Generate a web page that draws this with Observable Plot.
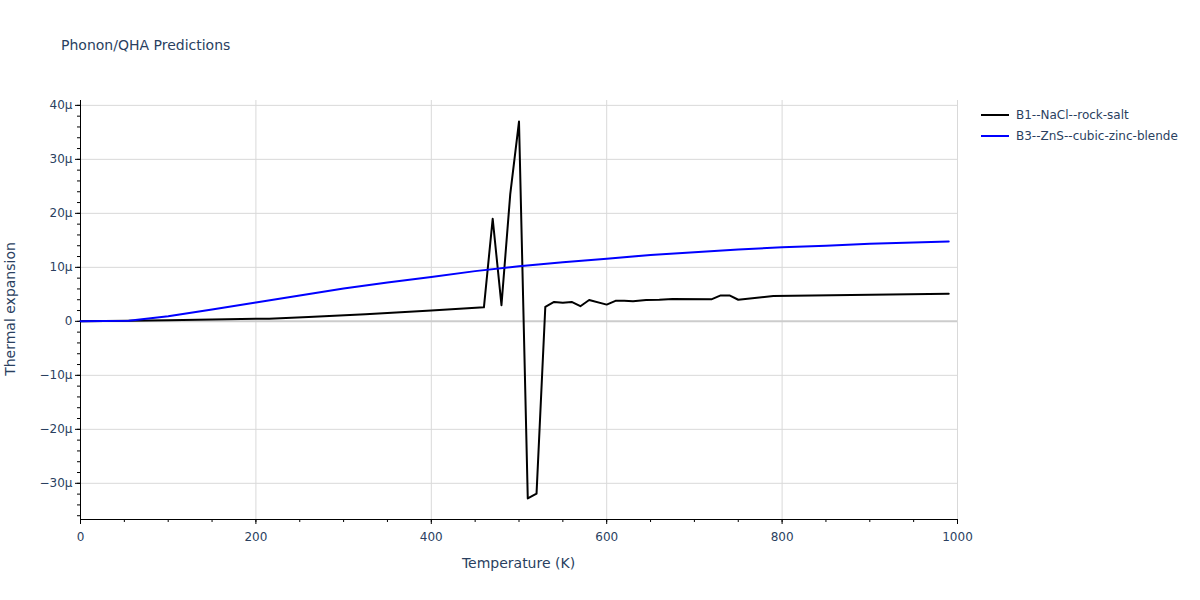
<!DOCTYPE html>
<html>
<head>
<meta charset="utf-8">
<script src="https://cdn.jsdelivr.net/npm/d3@7"></script>
<script src="https://cdn.jsdelivr.net/npm/@observablehq/plot@0.6"></script>
<style>
  html, body { margin: 0; padding: 0; background: #fff; }
  #wrap { position: relative; width: 1200px; height: 600px; font-family: "DejaVu Sans", verdana, arial, sans-serif; color: #2a3f5f; }
  #wrap svg { position: absolute; left: 0; top: 0; }
  .title { position: absolute; left: 61px; top: 37px; font-size: 14px; color: #2a3f5f; white-space: nowrap; }
  .xlabel { position: absolute; left: 80px; width: 877px; top: 555px; text-align: center; font-size: 14px; }
  .ylabel { position: absolute; left: 10px; top: 309px; font-size: 14px; transform: translate(-50%, -50%) rotate(-90deg); transform-origin: center; white-space: nowrap; }
  .legend { position: absolute; left: 981px; top: 104px; font-size: 12px; }
  .legend .item { display: flex; align-items: center; height: 21px; white-space: nowrap; }
  .legend .sw { width: 28px; height: 2px; margin-right: 7px; }
</style>
</head>
<body>
<div id="wrap">
  <div class="title">Phonon/QHA Predictions</div>
  <div class="xlabel">Temperature (K)</div>
  <div class="ylabel">Thermal expansion</div>
  <div class="legend" id="legend"></div>
</div>
<script>
// Series names and colours
const seriesNames = ["B1--NaCl--rock-salt", "B3--ZnS--cubic-zinc-blende"];
const seriesColors = ["#000000", "#0000ff"];

// B1--NaCl--rock-salt (thermal expansion, in units of 1e-6 /K)
const naclT = [0, 55, 100, 150, 215, 260, 325, 400, 460, 470, 480, 490, 500, 510, 520, 530, 540, 550, 560, 570, 580, 600, 610, 620, 630, 645, 660, 675, 720, 730, 740, 750, 790, 990];
const naclA = [0, 0.1, 0.2, 0.35, 0.5, 0.8, 1.3, 2.0, 2.6, 19.0, 3.0, 23.5, 37.0, -32.8, -31.9, 2.7, 3.6, 3.45, 3.6, 2.8, 3.95, 3.1, 3.8, 3.8, 3.7, 3.95, 4.0, 4.15, 4.1, 4.8, 4.8, 4.0, 4.7, 5.1];

// B3--ZnS--cubic-zinc-blende
const znsT = [0, 55, 100, 150, 200, 250, 300, 350, 400, 450, 500, 550, 600, 650, 700, 750, 800, 850, 900, 950, 990];
const znsA = [0, 0.1, 0.95, 2.2, 3.5, 4.8, 6.1, 7.2, 8.2, 9.3, 10.2, 10.95, 11.6, 12.3, 12.8, 13.3, 13.7, 14.0, 14.35, 14.6, 14.8];

// Axis ticks
const xTicks = [0, 200, 400, 600, 800, 1000];
const xMinor = d3.range(0, 1001, 50);
const yTicks = [-30, -20, -10, 0, 10, 20, 30, 40];
const yMinor = d3.range(-36, 41, 2);

const data = [
  ...naclT.map((t, i) => ({T: t, a: naclA[i], s: seriesNames[0]})),
  ...znsT.map((t, i) => ({T: t, a: znsA[i], s: seriesNames[1]}))
];

const yFmt = d => d === 0 ? "0" : (d < 0 ? "\u2212" : "") + Math.abs(d) + "\u03bc";

const chart = Plot.plot({
  width: 1200,
  height: 600,
  marginTop: 100,
  marginBottom: 81,
  marginLeft: 80,
  marginRight: 243,
  style: {fontFamily: '"DejaVu Sans", verdana, arial, sans-serif', fontSize: "12px", color: "#2a3f5f", background: "transparent"},
  x: {domain: [0, 1000]},
  y: {domain: [-36.7, 40.9]},
  color: {domain: seriesNames, range: seriesColors},
  marks: [
    Plot.gridX(xTicks, {stroke: "#d9d9d9", strokeOpacity: 1}),
    Plot.gridY(yTicks.filter(d => d !== 0), {stroke: "#d9d9d9", strokeOpacity: 1}),
    Plot.ruleY([0], {stroke: "#cccccc", strokeWidth: 2}),
    Plot.axisX(xTicks, {tickSize: 5, tickPadding: 8, tickFormat: d => String(d), label: null, fontSize: 12, color: "#2a3f5f", stroke: "#000"}),
    Plot.axisX(xMinor, {tickSize: 3, tickFormat: () => "", label: null, stroke: "#000"}),
    Plot.axisY(yTicks, {tickSize: 5, tickPadding: 3, tickFormat: yFmt, label: null, fontSize: 12, color: "#2a3f5f", stroke: "#000"}),
    Plot.axisY(yMinor, {tickSize: 3, tickFormat: () => "", label: null, stroke: "#000"}),
    Plot.ruleX([0], {stroke: "#000", strokeWidth: 1}),
    Plot.ruleY([-36.7], {stroke: "#000", strokeWidth: 1}),
    Plot.line(data, {x: "T", y: "a", z: "s", stroke: "s", strokeWidth: 2})
  ]
});
document.getElementById("wrap").prepend(chart);

const legend = document.getElementById("legend");
seriesNames.forEach((n, i) => {
  const item = document.createElement("div");
  item.className = "item";
  const sw = document.createElement("div");
  sw.className = "sw";
  sw.style.background = seriesColors[i];
  const tx = document.createElement("span");
  tx.textContent = n;
  item.appendChild(sw);
  item.appendChild(tx);
  legend.appendChild(item);
});
</script>
</body>
</html>
